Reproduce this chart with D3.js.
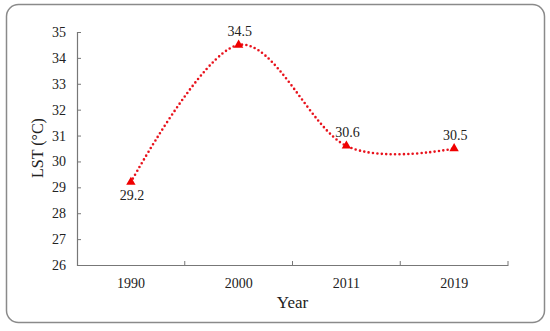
<!DOCTYPE html>
<html>
<head>
<meta charset="utf-8">
<script src="https://cdn.jsdelivr.net/npm/d3@7"></script>
<style>
body { margin: 0; background: #fff; }
text { font-family: "Liberation Serif", "Times New Roman", serif; fill: #222; }
</style>
</head>
<body>
<script>
/* LST by year */
var years = ["1990", "2000", "2011", "2019"];
var lst = [29.2, 34.5, 30.6, 30.5];
var yTicks = [26, 27, 28, 29, 30, 31, 32, 33, 34, 35];

var width = 550, height = 331;
var plotLeft = 77, plotRight = 508, plotTop = 32, plotBottom = 265;

var svg = d3.select("body").append("svg")
    .attr("width", width)
    .attr("height", height);

// outer frame
svg.append("rect")
    .attr("x", 6.5).attr("y", 4.5)
    .attr("width", 538).attr("height", 318)
    .attr("rx", 12).attr("ry", 12)
    .attr("fill", "#fff")
    .attr("stroke", "#8a8a8a")
    .attr("stroke-width", 1.5);

var x = d3.scaleBand().domain(years).range([plotLeft, plotRight]);
var y = d3.scaleLinear().domain([26, 35]).range([plotBottom, plotTop]);

// y axis
var yAxis = svg.append("g")
    .attr("transform", "translate(" + plotLeft + ",0)")
    .call(d3.axisLeft(y).tickValues(yTicks).tickSize(-4).tickPadding(11));
yAxis.select(".domain").attr("stroke", "#777").attr("stroke-width", 1.2);
yAxis.selectAll(".tick line").attr("stroke", "#777");
yAxis.selectAll("text").attr("font-size", 14).attr("fill", "#222");

// x axis, ticks on band boundaries
var xAxis = svg.append("g")
    .attr("transform", "translate(0," + plotBottom + ")")
    .call(d3.axisBottom(x).tickSize(0).tickPadding(13));
xAxis.select(".domain").attr("stroke", "#777").attr("stroke-width", 1.2);
xAxis.selectAll("text").attr("font-size", 14).attr("fill", "#222");
xAxis.selectAll(".bnd")
    .data(years)
    .enter().append("line")
    .attr("x1", function(d){ return x(d) + x.bandwidth(); })
    .attr("x2", function(d){ return x(d) + x.bandwidth(); })
    .attr("y1", 0).attr("y2", -4)
    .attr("stroke", "#777");

// axis titles
svg.append("text")
    .attr("x", (plotLeft + plotRight) / 2)
    .attr("y", 308)
    .attr("text-anchor", "middle")
    .attr("font-size", 17)
    .text("Year");
svg.append("text")
    .attr("transform", "translate(43," + 148 + ") rotate(-90)")
    .attr("text-anchor", "middle")
    .attr("font-size", 16)
    .text("LST (°C)");

var pts = years.map(function(d, i){ return [x(d) + x.bandwidth() / 2, y(lst[i])]; });

// smoothed dotted line
svg.append("path")
    .attr("d", d3.line().curve(d3.curveCardinal.tension(0))(pts))
    .attr("fill", "none")
    .attr("stroke", "#e8121c")
    .attr("stroke-width", 2.6)
    .attr("stroke-linecap", "round")
    .attr("stroke-dasharray", "0,4.4");

// triangle markers
svg.selectAll(".mk")
    .data(pts)
    .enter().append("path")
    .attr("transform", function(d){ return "translate(" + d[0] + "," + d[1] + ")"; })
    .attr("d", d3.symbol().type(d3.symbolTriangle).size(38))
    .attr("fill", "#f00000");

// value labels
svg.selectAll(".lbl")
    .data(lst)
    .enter().append("text")
    .attr("x", function(d, i){ return pts[i][0] + 1; })
    .attr("y", function(d, i){ return i === 0 ? pts[i][1] + 18 : pts[i][1] - 9; })
    .attr("text-anchor", "middle")
    .attr("font-size", 14)
    .text(function(d){ return d.toFixed(1); });
</script>
</body>
</html>
